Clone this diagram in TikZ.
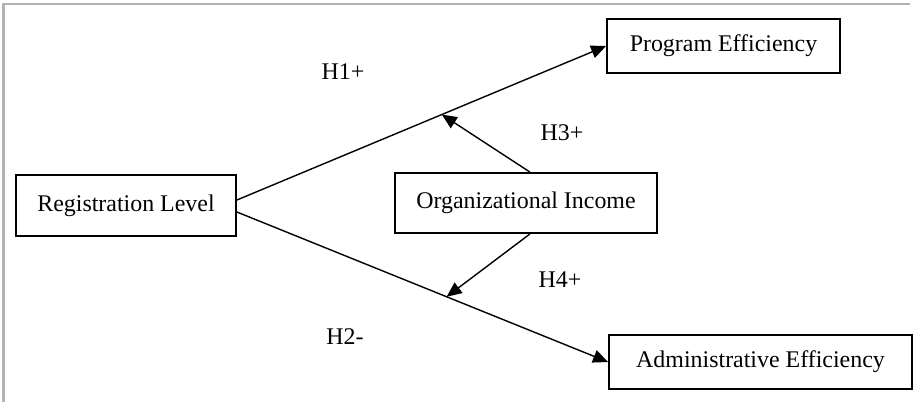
\documentclass[tikz,border=0pt]{standalone}
\usepackage{fontspec}
\setmainfont{Liberation Serif}
\usetikzlibrary{arrows.meta}
\usetikzlibrary{positioning}

\tikzset{
    box/.style={draw, line width=1.8bp, minimum height=#1, anchor=center,
        font=\fontsize{24}{28}\selectfont},
    box/.default=54bp,
    hyp/.style={font=\fontsize{24}{28}\selectfont},
    path/.style={line width=1.4bp, -{Triangle[length=15bp,width=13bp]}}
}

\begin{document}
\begin{tikzpicture}[x=1bp,y=-1bp]
    \useasboundingbox (0,0) rectangle (919,402);
    % frame
    \draw[gray!60, line width=2bp] (3.5,402)--(3.5,3.5)--(910,3.5);

    \node[box=61bp, minimum width=220bp] at (126,205.5) (reg) {Registration Level};
    \node[box, minimum width=233bp] at (723.5,46) (prog) {Program Efficiency};
    \node[box, minimum width=303bp] at (760.5,362) (adm) {Administrative Efficiency};
    \node[box=60bp, minimum width=262bp] at (526,203) (inc) {Organizational Income};

    \coordinate (r1) at ([yshift=5.5bp]reg.east);
    \coordinate (r2) at ([yshift=-6.5bp]reg.east);
    \draw[path] (r1) -- (prog.west) coordinate[pos=0.555] (m1);
    \draw[path] (r2) -- (adm.west) coordinate[pos=0.565] (m2);

    \coordinate (i1) at ([xshift=4bp]inc.north);
    \coordinate (i2) at ([xshift=4bp]inc.south);
    \draw[path] (i1) -- (m1);
    \draw[path] (i2) -- (m2);

    \node[hyp] at (343,72) (h1) {H1+};
    \node[hyp] at (345,337) (h2) {H2-};
    \node[hyp] at (562,133) (h3) {H3+};
    \node[hyp] at (560,280) (h4) {H4+};
\end{tikzpicture}
\end{document}
